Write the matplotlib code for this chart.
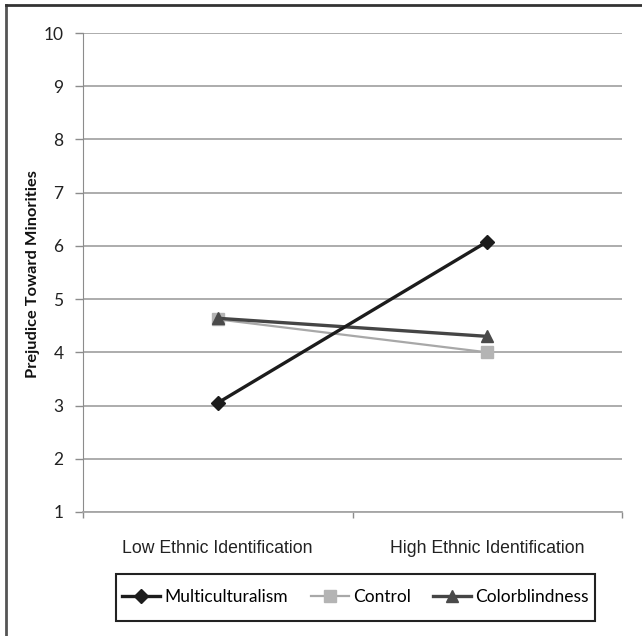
import matplotlib
matplotlib.use("Agg")
import matplotlib.pyplot as plt
from matplotlib.lines import Line2D
from matplotlib.patches import Rectangle
from matplotlib.ticker import FixedLocator

categories = ["Low Ethnic Identification", "High Ethnic Identification"]
multiculturalism = [3.05, 6.08]
control = [4.62, 4.00]
colorblindness = [4.64, 4.30]
yticks = [1, 2, 3, 4, 5, 6, 7, 8, 9, 10]

fig = plt.figure(figsize=(6.42, 6.36), dpi=100)
W, H = 642, 636
ax = fig.add_axes([83 / W, 1 - 512 / H, (622 - 83) / W, (512 - 33) / H])

x = list(range(len(categories)))
ax.plot(x, multiculturalism, color="#1c1c1c", lw=2.4, marker="D", ms=7,
        mfc="#1c1c1c", mec="#1c1c1c", label="Multiculturalism", zorder=5)
ax.plot(x, control, color="#a8a8a8", lw=1.6, marker="s", ms=8,
        mfc="#b4b4b4", mec="#b4b4b4", label="Control", zorder=3)
ax.plot(x, colorblindness, color="#454545", lw=2.4, marker="^", ms=9,
        mfc="#4a4a4a", mec="#4a4a4a", label="Colorblindness", zorder=4)

ax.set_xlim(-0.5, len(categories) - 0.5)
ax.set_ylim(1, 10)
ax.set_yticks(yticks)
ax.set_yticklabels([str(v) for v in yticks], fontfamily="Lato", fontsize=12.5, color="#222222")
ax.yaxis.grid(True, color="#a6a6a6", lw=1.3)
ax.set_axisbelow(True)

ax.set_xticks(x)
ax.set_xticklabels(categories, fontfamily="Liberation Sans", fontsize=12.7, color="#222222")
ax.tick_params(axis="x", which="major", length=0, pad=20)
ax.xaxis.set_minor_locator(FixedLocator([-0.5, 0.5, 1.5]))
ax.tick_params(axis="x", which="minor", length=4, color="#8c8c8c", width=1)
ax.tick_params(axis="y", length=6, color="#8c8c8c", width=1, pad=8)

for s in ["top", "right"]:
    ax.spines[s].set_visible(False)
ax.spines["left"].set_color("#8c8c8c")
ax.spines["bottom"].set_color("#a6a6a6")
ax.spines["bottom"].set_linewidth(1.3)

ax.set_ylabel("Prejudice Toward Minorities", fontfamily="Lato", fontweight="bold",
              fontsize=11.8, color="#111111")
ax.yaxis.set_label_coords((40 - 83) / 539, (512 - 274) / 479)

leg = fig.legend(loc="center", bbox_to_anchor=(355.5 / W, 1 - 597.5 / H), ncol=3,
                 prop={"family": "Lato", "size": 12.5}, frameon=False,
                 handlelength=2.2, handletextpad=0.23, columnspacing=1.3,
                 borderpad=0.3)

# legend frame
fig.add_artist(Rectangle((116 / W, 1 - 621 / H), (595 - 116) / W, (621 - 574) / H,
                         transform=fig.transFigure, fill=False, edgecolor="#222222", lw=1.5))

# cropped outer frame (top and left edges only)
fig.add_artist(Line2D([6 / W, 6 / W], [0, 1 - 5 / H], color="#555555", lw=2, transform=fig.transFigure))
fig.add_artist(Line2D([6 / W, 1], [1 - 5 / H, 1 - 5 / H], color="#333333", lw=2, transform=fig.transFigure))

fig.savefig("out.png", dpi=100)
